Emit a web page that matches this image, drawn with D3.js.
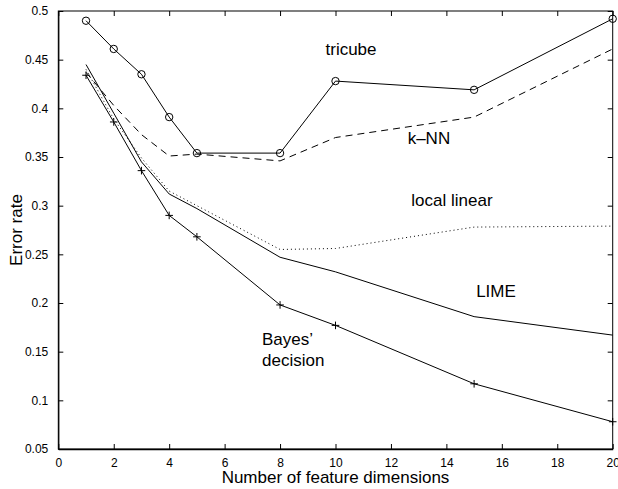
<!DOCTYPE html>
<html>
<head>
<meta charset="utf-8">
<script src="https://cdn.jsdelivr.net/npm/d3@7"></script>
<style>
  body { margin: 0; background: #fff; }
  svg text { font-family: "Liberation Sans", Arial, Helvetica, sans-serif; fill: #000; }
</style>
</head>
<body>
<div id="chart"></div>
<script>
// feature dimensions used in the experiment
var dims = [1, 2, 3, 4, 5, 8, 10, 15, 20];

// error rates
var tricube     = [0.490, 0.461, 0.435, 0.391, 0.354, 0.354, 0.428, 0.419, 0.492];
var knn         = [0.437, 0.403, 0.373, 0.351, 0.353, 0.346, 0.370, 0.391, 0.461];
var localLinear = [0.440, 0.389, 0.349, 0.315, 0.300, 0.255, 0.256, 0.278, 0.279];
var lime        = [0.445, 0.395, 0.345, 0.312, 0.297, 0.247, 0.232, 0.186, 0.167];
var bayes       = [0.434, 0.386, 0.336, 0.290, 0.268, 0.198, 0.177, 0.117, 0.078];

var xTicks = [0, 2, 4, 6, 8, 10, 12, 14, 16, 18, 20];
var yTicks = [0.05, 0.1, 0.15, 0.2, 0.25, 0.3, 0.35, 0.4, 0.45, 0.5];

var W = 618, H = 489;
var margin = {top: 11, right: 5.3, bottom: 40, left: 58.3},
    width = W - margin.left - margin.right,
    height = H - margin.top - margin.bottom;

var svg = d3.select("#chart")
  .append("svg")
  .attr("width", W)
  .attr("height", H);

var g = svg.append("g")
  .attr("transform", "translate(" + margin.left + "," + margin.top + ")");

var x = d3.scaleLinear().domain([0, 20]).range([0, width]);
var y = d3.scaleLinear().domain([0.05, 0.5]).range([height, 0]);

var tickLen = 5;

// box + inward ticks, matlab style
g.append("rect")
  .attr("x", 0).attr("y", 0)
  .attr("width", width).attr("height", height)
  .attr("fill", "none").attr("stroke", "#000").attr("stroke-width", 1);

var fmtY = function(d) { return String(+d.toFixed(2)); };

g.append("g")
  .attr("transform", "translate(0," + height + ")")
  .call(d3.axisBottom(x).tickValues(xTicks).tickSizeInner(-tickLen).tickSizeOuter(0).tickPadding(9))
  .call(a => a.select(".domain").attr("stroke-width", 1.5));
g.append("g")
  .call(d3.axisTop(x).tickValues(xTicks).tickSizeInner(-tickLen).tickSizeOuter(0).tickFormat(""))
  .call(a => a.select(".domain").remove());
g.append("g")
  .call(d3.axisLeft(y).tickValues(yTicks).tickSizeInner(-tickLen).tickSizeOuter(0).tickPadding(10).tickFormat(fmtY))
  .call(a => a.select(".domain").attr("stroke-width", 1.2));
g.append("g")
  .attr("transform", "translate(" + width + ",0)")
  .call(d3.axisRight(y).tickValues(yTicks).tickSizeInner(-tickLen).tickSizeOuter(0).tickFormat(""))
  .call(a => a.select(".domain").remove());

g.selectAll(".tick text").attr("font-size", 12).attr("font-family", "Liberation Sans, Arial, sans-serif");

// lines
var line = d3.line()
  .x((d, i) => x(dims[i]))
  .y(d => y(d));

function drawLine(vals, dash) {
  g.append("path")
    .datum(vals)
    .attr("fill", "none")
    .attr("stroke", "#000")
    .attr("stroke-width", 1)
    .attr("stroke-dasharray", dash)
    .attr("d", line);
}

drawLine(tricube, null);
drawLine(knn, "7,5");
drawLine(localLinear, "1,3");
drawLine(lime, null);
drawLine(bayes, null);

// circle markers on tricube
g.selectAll(".circ")
  .data(tricube)
  .join("circle")
  .attr("cx", (d, i) => x(dims[i]))
  .attr("cy", d => y(d))
  .attr("r", 3.7)
  .attr("fill", "none")
  .attr("stroke", "#000")
  .attr("stroke-width", 1);

// plus markers on bayes
var ps = 3.8;
g.selectAll(".plus")
  .data(bayes)
  .join("path")
  .attr("d", (d, i) => {
    var cx = x(dims[i]), cy = y(d);
    return "M" + (cx - ps) + "," + cy + "H" + (cx + ps) + "M" + cx + "," + (cy - ps) + "V" + (cy + ps);
  })
  .attr("stroke", "#000")
  .attr("stroke-width", 1);

// curve labels
var lblSize = 17;
g.append("text").attr("x", x(10.56)).attr("y", y(0.4548)).attr("text-anchor", "middle").attr("font-size", lblSize).text("tricube");
g.append("text").attr("x", x(13.37)).attr("y", y(0.3634)).attr("text-anchor", "middle").attr("font-size", lblSize).text("k\u2013NN");
g.append("text").attr("x", x(14.2)).attr("y", y(0.2997)).attr("text-anchor", "middle").attr("font-size", lblSize).text("local linear");
g.append("text").attr("x", x(15.79)).attr("y", y(0.2063)).attr("text-anchor", "middle").attr("font-size", lblSize).text("LIME");
g.append("text").attr("x", x(7.35)).attr("y", y(0.157)).attr("font-size", lblSize).text("Bayes\u2019");
g.append("text").attr("x", x(7.35)).attr("y", y(0.1354)).attr("font-size", lblSize).text("decision");

// axis titles
svg.append("text")
  .attr("x", margin.left + width / 2)
  .attr("y", 483)
  .attr("text-anchor", "middle")
  .attr("font-size", 17)
  .text("Number of feature dimensions");

svg.append("text")
  .attr("transform", "translate(21.5," + (margin.top + height / 2) + ") rotate(-90)")
  .attr("text-anchor", "middle")
  .attr("font-size", 17)
  .text("Error rate");
</script>
</body>
</html>
